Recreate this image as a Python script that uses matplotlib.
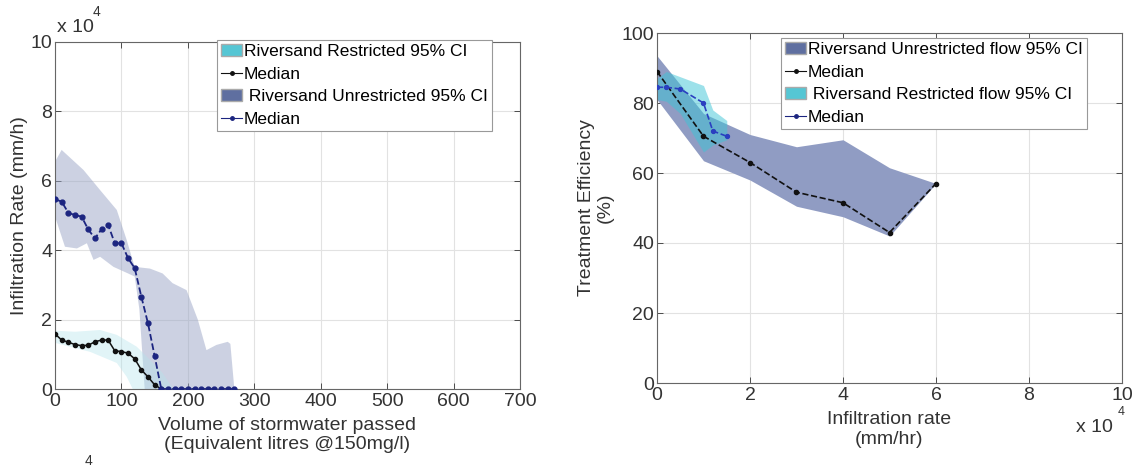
import matplotlib
matplotlib.use('Agg')
import matplotlib.pyplot as plt
from matplotlib.patches import Patch
from matplotlib.lines import Line2D
from matplotlib.ticker import FuncFormatter

plt.rcParams['font.family'] = ['Liberation Sans Narrow', 'Liberation Sans', 'DejaVu Sans']

# Left panel: infiltration rate (mm/h) vs volume passed
vol_unres = [0, 10, 20, 30, 40, 50, 60, 70, 80, 90, 100, 110, 120, 130, 140, 150, 160,
             170, 180, 190, 200, 210, 220, 230, 240, 250, 260, 270]
med_unres = [54700, 54000, 50800, 50100, 49700, 46000, 43400, 46000, 47300, 42000, 42000,
             37700, 34800, 26600, 18900, 9500, 0, 0, 0, 0, 0, 0, 0, 0, 0, 0, 0, 0]
vol_res = [0, 10, 20, 30, 40, 50, 60, 70, 80, 90, 100, 110, 120, 130, 140, 150, 160]
med_res = [15900, 14100, 13500, 12800, 12500, 12600, 13600, 14100, 14100, 11000, 10800,
           10300, 8700, 5500, 3500, 1200, 0]

unres_up_x = [0, 10, 43, 68, 93, 108, 120, 143, 162, 177, 198, 215, 228, 243, 260, 264, 270]
unres_up_y = [65500, 68900, 63100, 57300, 51600, 42900, 35200, 34700, 33300, 30500, 28500,
              20000, 11200, 12700, 13600, 13000, 0]
unres_lo_x = [0, 15, 33, 48, 58, 68, 88, 110, 120, 127, 135, 270]
unres_lo_y = [49700, 41000, 40500, 42000, 37200, 38100, 35200, 33300, 32400, 23000, 0, 0]

res_up_x = [0, 30, 68, 93, 123, 143, 162, 178]
res_up_y = [16800, 16500, 17000, 15600, 12200, 8400, 4600, 0]
res_lo_x = [0, 53, 93, 108, 117, 178]
res_lo_y = [13300, 10700, 7500, 3500, 0, 0]

# Right panel: treatment efficiency (%) vs infiltration rate (mm/hr)
rate_unres = [0, 10000, 20000, 30000, 40000, 50000, 60000]
eff_unres = [89, 70.5, 63, 54.5, 51.5, 43, 57]
eff_unres_up = [93.5, 77, 71, 67.5, 69.5, 61.5, 57]
eff_unres_lo = [81, 63.5, 58, 50.5, 47.5, 42, 57]
rate_res = [0, 2000, 5000, 10000, 12000, 15000]
eff_res = [84.5, 84.5, 84, 80, 72, 70.5]
eff_res_up = [87, 89, 87.5, 85, 78, 75]
eff_res_lo = [81, 80.5, 77, 66, 68, 69.5]

W, H = 1139, 472
fig = plt.figure(figsize=(W / 100, H / 100), dpi=100)

def px(x, y):
    return x / W, 1 - y / H

def style(ax):
    ax.grid(True, color='#e2e2e2', lw=0.8)
    ax.set_axisbelow(True)
    ax.tick_params(direction='in', length=4, width=0.6, top=True, right=True,
                   labelsize=14, colors='#333333', pad=2)
    ax.tick_params(axis='x', pad=3)
    for s in ax.spines.values():
        s.set_color('#666666')
        s.set_linewidth(0.8)

slate = '#5f6fa0'
cyan = '#55c6d4'
leg_kw = dict(fontsize=12.5, frameon=True, fancybox=False, framealpha=1, edgecolor='#999999',
              handlelength=1.2, handletextpad=0.1, borderpad=0.25, labelspacing=0.42,
              borderaxespad=0)

# ---- left
ax1 = fig.add_axes([55 / W, 1 - 389 / H, 465 / W, 347 / H])
ax1.fill(unres_up_x + unres_lo_x[::-1], unres_up_y + unres_lo_y[::-1],
         color='#9aa5c6', alpha=0.5, lw=0, zorder=1)
ax1.fill(res_up_x + res_lo_x[::-1], res_up_y + res_lo_y[::-1],
         color='#b4e4ec', alpha=0.4, lw=0, zorder=2)
ax1.plot(vol_res, med_res, '-', color='#111111', lw=1.1, marker='o', ms=3, zorder=3)
ax1.plot(vol_unres, med_unres, '--', color='#1c2580', lw=1.3, marker='o', ms=3.5, zorder=4)
ax1.set_xlim(0, 700)
ax1.set_ylim(0, 100000)
ax1.set_xticks(range(0, 701, 100))
ax1.set_yticks(range(0, 100001, 20000))
ax1.yaxis.set_major_formatter(FuncFormatter(lambda v, p: '%g' % (v / 1e4)))
style(ax1)
ax1.set_xlabel('Volume of stormwater passed\n(Equivalent litres @150mg/l)',
               fontsize=14, color='#333333', labelpad=5, linespacing=1.15)
ax1.set_ylabel('Infiltration Rate (mm/h)', fontsize=14, color='#333333', labelpad=2)
h1 = [Patch(facecolor=cyan, edgecolor='#aaaaaa'),
      Line2D([], [], color='#111111', ls='-', marker='.', ms=5, lw=0.8),
      Patch(facecolor=slate, edgecolor='#aaaaaa'),
      Line2D([], [], color='#1c2580', ls='-', marker='.', ms=5, lw=0.8)]
l1 = ['Riversand Restricted 95% CI', 'Median', ' Riversand Unrestricted 95% CI', 'Median']
leg = ax1.legend(h1, l1, loc='upper right', bbox_to_anchor=(0.94, 1.006), **leg_kw)
leg.get_frame().set_linewidth(0.8)
fig.text(*px(57, 27), 'x 10', fontsize=14, color='#333333', va='center', ha='left')
fig.text(*px(93, 12), '4', fontsize=10, color='#333333', va='center', ha='left')
fig.text(*px(85, 461), '4', fontsize=10, color='#333333', va='center', ha='left')

# ---- right
ax2 = fig.add_axes([657 / W, 1 - 383 / H, 465 / W, 350 / H])
ax2.fill_between(rate_unres, eff_unres_lo, eff_unres_up, color='#909cc3', lw=0, zorder=1)
ax2.fill_between(rate_res, eff_res_lo, eff_res_up, color='#3cc4d6', alpha=0.5, lw=0, zorder=2)
ax2.plot(rate_unres, eff_unres, '--', color='#111111', lw=1.2, marker='o', ms=3, zorder=3)
ax2.plot(rate_res, eff_res, '--', color='#2a3fc0', lw=1.2, marker='o', ms=2.8, zorder=4)
ax2.set_xlim(0, 100000)
ax2.set_ylim(0, 100)
ax2.set_xticks(range(0, 100001, 20000))
ax2.set_yticks(range(0, 101, 20))
ax2.xaxis.set_major_formatter(FuncFormatter(lambda v, p: '%g' % (v / 1e4)))
style(ax2)
ax2.set_xlabel('Infiltration rate\n(mm/hr)', fontsize=14, color='#333333', labelpad=5,
               linespacing=1.25)
ax2.set_ylabel('Treatment Efficiency\n(%)', fontsize=14, color='#333333', labelpad=6,
               linespacing=1.1)
h2 = [Patch(facecolor=slate, edgecolor='#aaaaaa'),
      Line2D([], [], color='#111111', ls='-', marker='.', ms=5, lw=0.8),
      Patch(facecolor=cyan, edgecolor='#aaaaaa'),
      Line2D([], [], color='#1c2580', ls='-', marker='.', ms=5, lw=0.8)]
l2 = ['Riversand Unrestricted flow 95% CI', 'Median', ' Riversand Restricted flow 95% CI', 'Median']
leg2 = ax2.legend(h2, l2, loc='upper right', bbox_to_anchor=(0.925, 0.986), **leg_kw)
leg2.get_frame().set_linewidth(0.8)
fig.text(*px(1076, 428), 'x 10', fontsize=14, color='#333333', va='center', ha='left')
fig.text(*px(1118, 412), '4', fontsize=9, color='#333333', va='center', ha='left')

fig.savefig('out.png', dpi=100)
